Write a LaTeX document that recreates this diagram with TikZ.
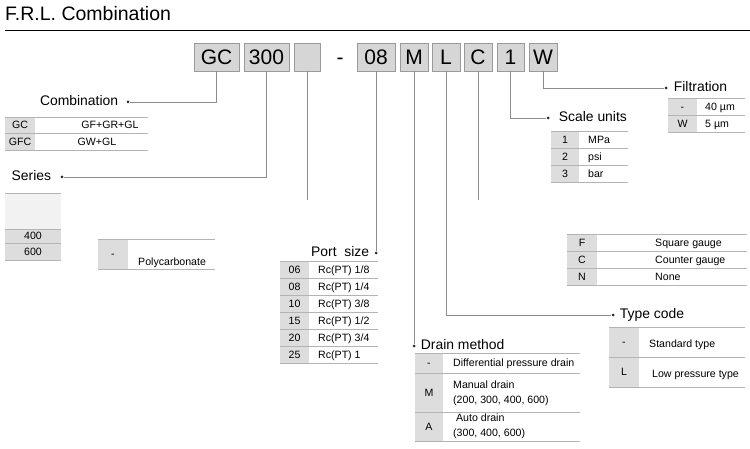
\documentclass[tikz,border=0pt]{standalone}
\usepackage{fontspec}
\setmainfont{Liberation Sans}
\usepackage{xcolor}
\usetikzlibrary{positioning, calc}

\definecolor{boxgray}{HTML}{D6D6D6}
\definecolor{boxline}{HTML}{9A9A9A}
\definecolor{keygray}{HTML}{DDDDDD}
\definecolor{rulegray}{HTML}{B4B4B4}
\definecolor{leadgray}{HTML}{8C8C8C}

\begin{document}
\begin{tikzpicture}[
    x=1pt, y=-1pt,
    code/.style={draw=boxline, fill=boxgray, minimum height=28pt, inner sep=0pt, font=\fontsize{21}{21}\selectfont},
    lead/.style={draw=leadgray, line width=0.9pt},
    dot/.style={circle, fill=black!85, inner sep=0pt, minimum size=3pt},
    lbl/.style={inner sep=0pt, text height=0.72em, text depth=0pt, font=\fontsize{13.9}{14}\selectfont},
    cell/.style={inner sep=0pt, text height=0.72em, text depth=0pt, font=\fontsize{10.6}{15}\selectfont},
    rule/.style={draw=rulegray, line width=0.8pt}
]
\useasboundingbox (0,0) rectangle (750,449);

% title
\node[anchor=west, inner sep=0pt, font=\fontsize{19.5}{20}\selectfont] (title) at (5,14) {F.R.L. Combination};
\draw[line width=0.9pt] (5,30) -- (750,30);

% model code
\node[code, minimum width=45pt] (gc) at (216.5,57) {GC};
\node[code, minimum width=45pt] (ser) at (266.5,57) {300};
\node[code, minimum width=26pt] (bowl) at (307,57) {};
\node[inner sep=0pt, font=\fontsize{21}{21}\selectfont] (dash) at (340,61) {-};
\node[code, minimum width=38pt] (port) at (376,57) {08};
\node[code, minimum width=28pt] (drain) at (414,57) {M};
\node[code, minimum width=28pt] (type) at (446,57) {L};
\node[code, minimum width=28pt] (gauge) at (478,57) {C};
\node[code, minimum width=27pt] (unit) at (510.5,57) {1};
\node[code, minimum width=28pt] (filt) at (543,57) {W};

% label dots
\node[dot] (cmb-dot) at (128,102) {};
\node[dot] (ser-dot) at (62,177) {};
\node[dot] (port-dot) at (376,253) {};
\node[dot] (drain-dot) at (414,346) {};
\node[dot] (type-dot) at (613,315) {};
\node[dot] (unit-dot) at (548,118) {};
\node[dot] (filt-dot) at (666,88) {};
\coordinate (bowl-end) at (307,200);
\coordinate (gauge-end) at (478,200);

\node[lbl, left=8pt of cmb-dot] (cmb-lbl) {Combination};
\node[lbl, left=9pt of ser-dot] (ser-lbl) {Series};
\node[lbl, left=5pt of port-dot] (port-lbl) {Port\ \ size};
\node[lbl, right=5pt of drain-dot] (drain-lbl) {Drain method};
\node[lbl, right=5pt of type-dot] (type-lbl) {Type code};
\node[lbl, right=9pt of unit-dot] (unit-lbl) {Scale units};
\node[lbl, right=6pt of filt-dot] (filt-lbl) {Filtration};

% leaders
\draw[lead] (gc.south) |- (cmb-dot);
\draw[lead] (ser.south) |- (ser-dot);
\draw[lead] (bowl.south) -- (bowl-end);
\draw[lead] (port.south) -- (port-dot);
\draw[lead] (drain.south) -- (drain-dot);
\draw[lead] (type.south) |- (type-dot);
\draw[lead] (gauge.south) -- (gauge-end);
\draw[lead] (unit.south) |- (unit-dot);
\draw[lead] (filt.south) |- (filt-dot);

% combination table
\fill[keygray] (5,117) rectangle (35,150);
\foreach \y in {117,133,150} \draw[rule] (5,\y) -- (148,\y);
\node[cell] (cmb-c1) at (20,125) {GC};
\node[cell] (cmb-d1) at (110,125) {GF+GR+GL};
\node[cell] (cmb-c2) at (20,141.5) {GFC};
\node[cell] (cmb-d2) at (97,141.5) {GW+GL};

% series table
\fill[gray!10] (5,193) rectangle (61,229);
\fill[keygray] (5,229) rectangle (61,260);
\foreach \y in {193,229,243,260} \draw[rule] (5,\y) -- (61,\y);
\node[cell] (ser-c1) at (33,236) {400};
\node[cell] (ser-c2) at (33,251.5) {600};

% bowl table
\fill[keygray] (98,239) rectangle (128,269);
\foreach \y in {239,269} \draw[rule] (98,\y) -- (215,\y);
\node[cell] (bowl-c1) at (113,254) {-};
\node[cell, anchor=west] (bowl-d1) at (138,262) {Polycarbonate};

% port size table
\fill[keygray] (280,261) rectangle (309,363);
\draw[rule] (280,261) -- (378,261);
\foreach \c/\d [count=\i] in {06/{Rc(PT) 1/8}, 08/{Rc(PT) 1/4}, 10/{Rc(PT) 3/8}, 15/{Rc(PT) 1/2}, 20/{Rc(PT) 3/4}, 25/{Rc(PT) 1}} {
  \node[cell] (port-c\i) at (294.5,252.5+17*\i) {\c};
  \node[cell, anchor=west] (port-d\i) at (318,252.5+17*\i) {\d};
  \draw[rule] (280,261+17*\i) -- (378,261+17*\i);
}

% drain table
\fill[keygray] (415,353) rectangle (443,441);
\foreach \y in {353,373,412,441} \draw[rule] (415,\y) -- (580,\y);
\node[cell] (drain-c1) at (429,363) {-};
\node[cell] (drain-c2) at (429,392.5) {M};
\node[cell] (drain-c3) at (429,426.5) {A};
\node[cell, anchor=west] (drain-d1) at (453,363) {Differential pressure drain};
\node[cell, anchor=west, align=left, text height=, text depth=] (drain-d2) at (453,393) {Manual drain\\(200, 300, 400, 600)};
\node[cell, anchor=west, align=left, text height=, text depth=] (drain-d3) at (453,426.5) {\ Auto drain\\(300, 400, 600)};

% type table
\fill[keygray] (609,327) rectangle (639,387);
\foreach \y in {327,357,387} \draw[rule] (609,\y) -- (745,\y);
\node[cell] (type-c1) at (624,342) {-};
\node[cell] (type-c2) at (624,372) {L};
\node[cell, anchor=west] (type-d1) at (649,344) {Standard type};
\node[cell, anchor=west] (type-d2) at (652,374) {Low pressure type};

% scale units table
\fill[keygray] (551,131) rectangle (579,182);
\draw[rule] (551,131) -- (628,131);
\foreach \c/\d [count=\i] in {1/MPa, 2/psi, 3/bar} {
  \node[cell] (unit-c\i) at (565,122.5+17*\i) {\c};
  \node[cell, anchor=west] (unit-d\i) at (588,122.5+17*\i) {\d};
  \draw[rule] (551,131+17*\i) -- (628,131+17*\i);
}

% filtration table
\fill[keygray] (668,98) rectangle (697,132);
\foreach \y in {98,115,132} \draw[rule] (668,\y) -- (745,\y);
\node[cell] (filt-c1) at (682.5,106.5) {-};
\node[cell] (filt-c2) at (682.5,123.5) {W};
\node[cell, anchor=west] (filt-d1) at (705,106.5) {40 µm};
\node[cell, anchor=west] (filt-d2) at (705,123.5) {5 µm};

% gauge table
\fill[keygray] (567,234) rectangle (597,285);
\draw[rule] (567,234) -- (747,234);
\foreach \c/\d [count=\i] in {F/Square gauge, C/Counter gauge, N/None} {
  \node[cell] (gauge-c\i) at (582,225.5+17*\i) {\c};
  \node[cell, anchor=west] (gauge-d\i) at (655,225.5+17*\i) {\d};
  \draw[rule] (567,234+17*\i) -- (747,234+17*\i);
}

\end{tikzpicture}
\end{document}
